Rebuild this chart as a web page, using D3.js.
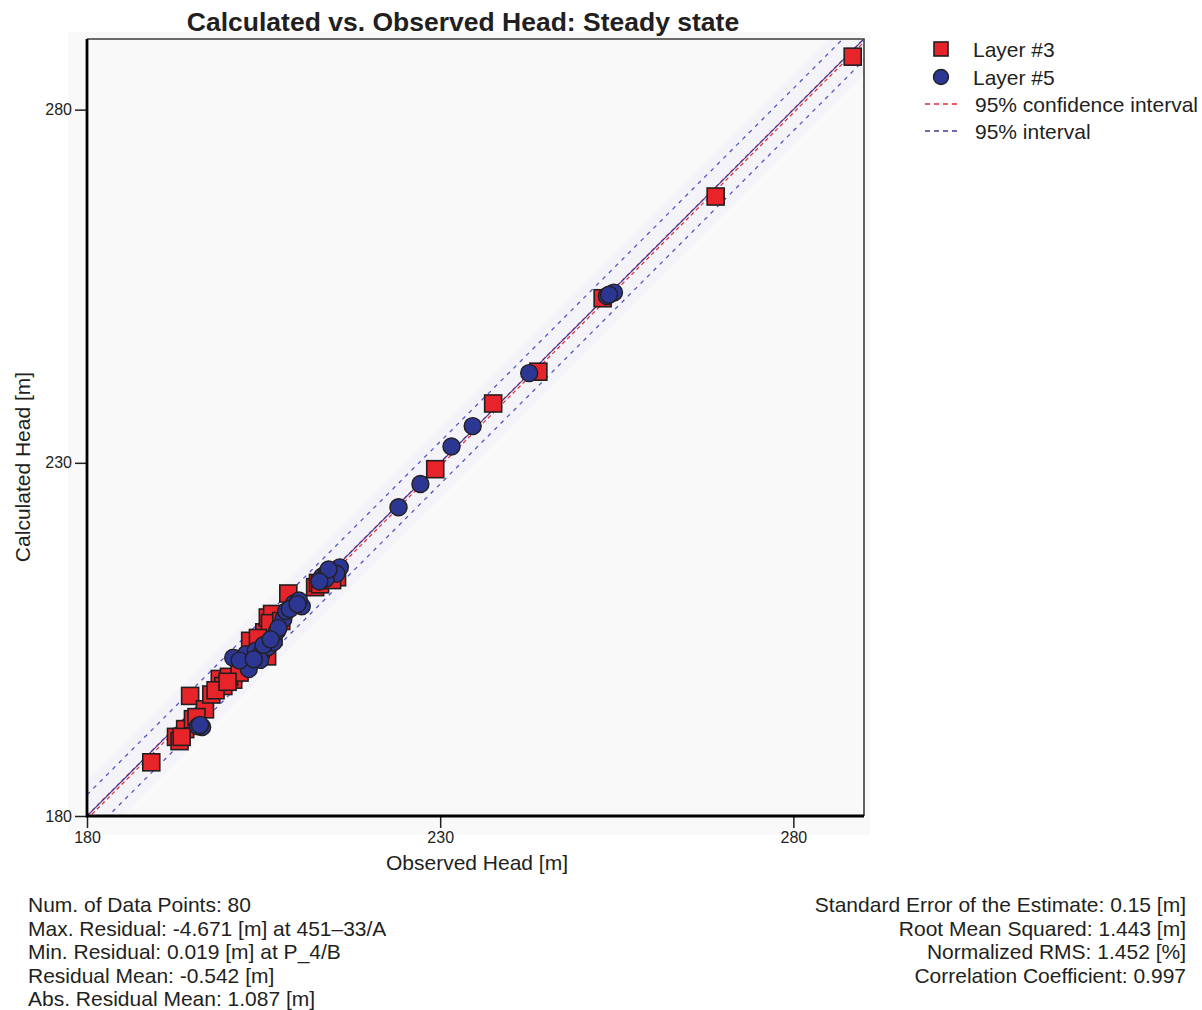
<!DOCTYPE html>
<html>
<head>
<meta charset="utf-8">
<script src="https://cdn.jsdelivr.net/npm/d3@7"></script>
<style>
    body { margin: 0; background: #fff; }
    text { font-family: "Liberation Sans", Arial, sans-serif; fill: #231f20; }
</style>
</head>
<body>
<svg id="svg-main"></svg>
<script>
// 数据: Layer #3 (方块) 观测值 / 计算值
let layer3Obs = [288.4, 269.0, 253.0, 243.9, 237.5, 229.3, 189.1, 192.6, 193.1, 193.9,
    194.6, 195.0, 196.7, 197.6, 198.8, 199.3, 200.7, 200.1, 203.1, 203.0,
    205.5, 205.1, 205.6, 206.2, 208.5, 212.3, 212.7, 215.4, 204.6, 206.4,
    201.6, 195.5, 213.0, 205.9, 193.4, 198.2, 207.5, 214.7, 199.9, 204.2];
let layer3Calc = [287.5, 267.7, 253.3, 242.9, 238.4, 229.1, 187.6, 191.2, 190.6, 192.3,
    197.0, 193.7, 195.1, 197.2, 199.4, 198.4, 199.3, 199.7, 204.8, 202.6,
    202.6, 206.0, 208.1, 208.6, 211.5, 212.4, 213.0, 213.8, 203.6, 205.4,
    200.3, 194.0, 212.8, 207.3, 191.2, 197.8, 207.6, 213.4, 199.0, 205.2];
// 数据: Layer #5 (圆点)
let layer5Obs = [253.6, 254.6, 242.6, 234.6, 231.6, 227.2, 224.1, 196.3, 195.7, 200.7,
    202.5, 203.9, 204.7, 205.6, 206.4, 206.9, 207.8, 208.2, 209.3, 210.4,
    210.0, 213.3, 214.0, 214.7, 215.8, 215.3, 202.9, 204.5, 207.1, 208.7,
    213.8, 201.6, 205.0, 196.0, 206.0, 203.6, 209.8, 214.2, 253.9, 212.9];
let layer5Calc = [253.6, 254.1, 242.7, 235.2, 232.3, 227.0, 223.7, 192.6, 192.7, 202.4,
    202.9, 203.4, 203.0, 203.9, 204.6, 206.2, 207.9, 209.0, 210.1, 209.7,
    210.5, 213.9, 214.5, 214.6, 215.2, 214.3, 200.8, 202.1, 206.6, 209.3,
    213.6, 202.0, 204.2, 192.9, 205.0, 202.2, 210.0, 214.9, 253.8, 213.2];

// 坐标轴 刻度
let axisDomain = [180, 290];
let majorTicks = [180, 230, 280];
let minorTicks = d3.range(180, 291, 10);
// 置信区间 偏移
let confOffsets = [-0.45, 0.05];
let intervalOffsets = [-3.0, 3.0];

let legendItems = ['Layer #3', 'Layer #5', '95% confidence interval', '95% interval'];
let statsLeft = ['Num. of Data Points: 80', 'Max. Residual: -4.671 [m] at 451\u201333/A',
    'Min. Residual: 0.019 [m] at P_4/B', 'Residual Mean: -0.542 [m]', 'Abs. Residual Mean: 1.087 [m]'];
let statsRight = ['Standard Error of the Estimate: 0.15 [m]', 'Root Mean Squared: 1.443 [m]',
    'Normalized RMS: 1.452 [%]', 'Correlation Coefficient: 0.997'];

let width = 1202, height = 1010;
let svg = d3.select('#svg-main')
    .attr('width', width)
    .attr('height', height);

// 绘图区
let plot = {left: 87, top: 39, size: 777};
let xScale = d3.scaleLinear().domain(axisDomain).range([plot.left, plot.left + plot.size]);
let yScale = d3.scaleLinear().domain(axisDomain).range([plot.top + plot.size, plot.top]);

// 背景
svg.append('rect')
    .attr('x', 68).attr('y', 32)
    .attr('width', 802).attr('height', 803)
    .attr('fill', '#f9f9f9');

svg.append('clipPath').attr('id', 'clip-plot')
    .append('rect')
    .attr('x', plot.left).attr('y', plot.top)
    .attr('width', plot.size).attr('height', plot.size);

let gPlot = svg.append('g').attr('clip-path', 'url(#clip-plot)');

// 对角线周围淡色带
let band = d3.area()
    .x(d => xScale(d))
    .y0(d => yScale(d - 5))
    .y1(d => yScale(d + 5));
gPlot.append('path')
    .datum(axisDomain)
    .attr('d', band)
    .attr('fill', '#f1f1f7')
    .attr('opacity', 0.8);

let diag = function (off) {
    return d3.line()
        .x(d => xScale(d))
        .y(d => yScale(d + off))(axisDomain);
};
// 95% interval 蓝色虚线
for (let off of intervalOffsets) {
    gPlot.append('path')
        .attr('d', diag(off))
        .attr('fill', 'none')
        .attr('stroke', '#4b4bc8')
        .attr('stroke-width', 1.2)
        .attr('stroke-dasharray', '4,5');
}
// 95% confidence interval 红色虚线
for (let off of confOffsets) {
    gPlot.append('path')
        .attr('d', diag(off))
        .attr('fill', 'none')
        .attr('stroke', '#e8282e')
        .attr('stroke-width', 1.2)
        .attr('stroke-dasharray', '4,3');
}
// 1:1 线
gPlot.append('path')
    .attr('d', diag(0))
    .attr('fill', 'none')
    .attr('stroke', '#3a3a9c')
    .attr('stroke-width', 1.2);

// 方块
let sq = 17;
gPlot.selectAll('.sq')
    .data(d3.zip(layer3Obs, layer3Calc))
    .enter()
    .append('rect')
    .attr('class', 'sq')
    .attr('x', d => xScale(d[0]) - sq / 2)
    .attr('y', d => yScale(d[1]) - sq / 2)
    .attr('width', sq)
    .attr('height', sq)
    .attr('fill', '#e8242b')
    .attr('stroke', '#231f20')
    .attr('stroke-width', 1.6);

// 圆点
gPlot.selectAll('.ci')
    .data(d3.zip(layer5Obs, layer5Calc))
    .enter()
    .append('circle')
    .attr('class', 'ci')
    .attr('cx', d => xScale(d[0]))
    .attr('cy', d => yScale(d[1]))
    .attr('r', 8.5)
    .attr('fill', '#2c3794')
    .attr('stroke', '#231f20')
    .attr('stroke-width', 1.4);

// 上 右 边框
svg.append('path')
    .attr('d', 'M' + plot.left + ',' + plot.top + 'H' + (plot.left + plot.size) + 'V' + (plot.top + plot.size))
    .attr('fill', 'none')
    .attr('stroke', '#3c3c3c')
    .attr('stroke-width', 1.6);

// 坐标轴
let gx = svg.append('g').attr('transform', 'translate(0,' + (plot.top + plot.size) + ')');
gx.call(d3.axisBottom(xScale).tickValues(minorTicks).tickSize(5).tickFormat(''));
gx.call(d3.axisBottom(xScale).tickValues(majorTicks).tickSize(12).tickPadding(4).tickFormat(d3.format('d')));
let gy = svg.append('g').attr('transform', 'translate(' + plot.left + ',0)');
gy.call(d3.axisLeft(yScale).tickValues(minorTicks).tickSize(5).tickFormat(''));
gy.call(d3.axisLeft(yScale).tickValues(majorTicks).tickSize(12).tickPadding(3).tickFormat(d3.format('d')));
svg.selectAll('.domain').remove();
svg.selectAll('.tick line').attr('stroke', '#231f20').attr('stroke-width', 1.5);
svg.selectAll('.tick text')
    .style('font-size', '16px')
    .style('font-family', '"Liberation Sans", Arial, sans-serif')
    .attr('fill', '#231f20');

// 粗的 左 下 轴线
svg.append('path')
    .attr('d', 'M' + plot.left + ',' + plot.top + 'V' + (plot.top + plot.size) + 'H' + (plot.left + plot.size))
    .attr('fill', 'none')
    .attr('stroke', '#000')
    .attr('stroke-width', 2.8);

// 标题 与 轴标签
svg.append('text')
    .attr('x', 463).attr('y', 31)
    .attr('text-anchor', 'middle')
    .style('font-size', '26.5px')
    .style('font-weight', 'bold')
    .text('Calculated vs. Observed Head: Steady state');
svg.append('text')
    .attr('x', 477).attr('y', 870)
    .attr('text-anchor', 'middle')
    .style('font-size', '21px')
    .text('Observed Head [m]');
svg.append('text')
    .attr('transform', 'translate(30,467) rotate(-90)')
    .attr('text-anchor', 'middle')
    .style('font-size', '21px')
    .text('Calculated Head [m]');

// 图例
let gLegend = svg.append('g');
let legendY = [49, 77, 104, 131];
gLegend.append('rect')
    .attr('x', 934).attr('y', legendY[0] - 7)
    .attr('width', 14).attr('height', 14)
    .attr('fill', '#e8242b').attr('stroke', '#231f20').attr('stroke-width', 1.6);
gLegend.append('circle')
    .attr('cx', 941).attr('cy', legendY[1])
    .attr('r', 7.5)
    .attr('fill', '#2c3794').attr('stroke', '#231f20').attr('stroke-width', 1.4);
gLegend.append('line')
    .attr('x1', 925).attr('x2', 958).attr('y1', legendY[2]).attr('y2', legendY[2])
    .attr('stroke', '#e8282e').attr('stroke-width', 1.3).attr('stroke-dasharray', '5,4');
gLegend.append('line')
    .attr('x1', 925).attr('x2', 958).attr('y1', legendY[3]).attr('y2', legendY[3])
    .attr('stroke', '#3a3a9c').attr('stroke-width', 1.3).attr('stroke-dasharray', '5,4');
gLegend.selectAll('.legend-text')
    .data(legendItems)
    .enter()
    .append('text')
    .attr('class', 'legend-text')
    .attr('x', (d, i) => i < 2 ? 973 : 975)
    .attr('y', (d, i) => legendY[i] + 7.5)
    .style('font-size', '21px')
    .text(d => d);

// 统计信息
svg.selectAll('.stat-left')
    .data(statsLeft)
    .enter()
    .append('text')
    .attr('class', 'stat-left')
    .attr('x', 28)
    .attr('y', (d, i) => 912 + i * 23.5)
    .style('font-size', '21px')
    .text(d => d);
svg.selectAll('.stat-right')
    .data(statsRight)
    .enter()
    .append('text')
    .attr('class', 'stat-right')
    .attr('x', 1186)
    .attr('y', (d, i) => 912 + i * 23.5)
    .attr('text-anchor', 'end')
    .style('font-size', '21px')
    .text(d => d);
</script>
</body>
</html>
